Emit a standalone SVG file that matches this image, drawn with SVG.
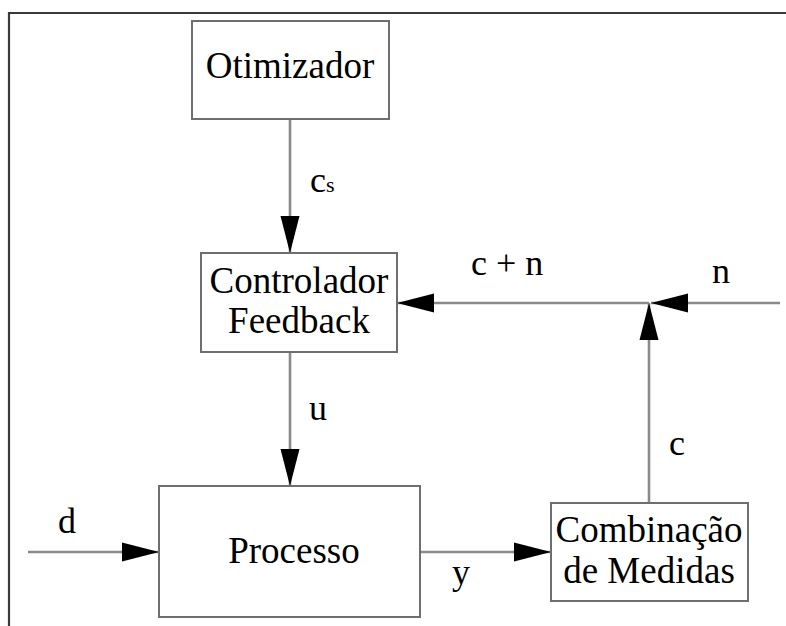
<svg xmlns="http://www.w3.org/2000/svg" width="786" height="626" viewBox="0 0 786 626">
  <style>
    .box { fill: #ffffff; stroke: #6e6e6e; stroke-width: 2; }
    .frame { fill: none; stroke: #3a3a3a; stroke-width: 2.2; }
    .wire { fill: none; stroke: #8a8a8a; stroke-width: 2.6; marker-end: url(#head); }
    text { font-family: "Liberation Serif", Tinos, "DejaVu Serif", "Times New Roman", serif; fill: #000000; }
    .lbl { font-size: 37px; text-anchor: middle; }
    .sig { font-size: 36px; }
  </style>
  <defs>
    <marker id="head" markerUnits="userSpaceOnUse" viewBox="-38 -10 38 20" refX="0" refY="0" markerWidth="38" markerHeight="20" orient="auto">
      <path d="M0,0 L-37,-9.5 L-37,9.5 Z" fill="#000000"/>
    </marker>
  </defs>

  <rect width="786" height="626" fill="#ffffff"/>
  <path class="frame" d="M9,626 V13 H786"/>

  <g id="connectors">
    <line class="wire" x1="290" y1="119" x2="290" y2="253"/>
    <line class="wire" x1="290" y1="352" x2="290" y2="486"/>
    <line class="wire" x1="28" y1="552" x2="159" y2="552"/>
    <line class="wire" x1="420" y1="552" x2="551" y2="552"/>
    <line class="wire" x1="649" y1="503" x2="649" y2="303"/>
    <line class="wire" x1="780" y1="303" x2="651" y2="303"/>
    <line class="wire" x1="649" y1="303" x2="397" y2="303"/>
  </g>

  <g id="labels">
    <text class="sig" x="310" y="192">c<tspan font-size="22">s</tspan></text>
    <text class="sig" x="309" y="420">u</text>
    <text class="sig" x="58" y="533">d</text>
    <text class="sig" x="452" y="584">y</text>
    <text class="sig" x="669" y="455">c</text>
    <text class="sig" x="471" y="275">c + n</text>
    <text class="sig" x="712" y="283">n</text>
  </g>

  <g id="otimizador">
    <rect class="box" x="192" y="21" width="197" height="98"/>
    <text class="lbl" x="290" y="78">Otimizador</text>
  </g>

  <g id="controlador">
    <rect class="box" x="201" y="253" width="196" height="99"/>
    <text class="lbl" x="299" y="293">Controlador</text>
    <text class="lbl" x="299" y="333">Feedback</text>
  </g>

  <g id="processo">
    <rect class="box" x="159" y="486" width="261" height="131"/>
    <text class="lbl" x="294" y="563">Processo</text>
  </g>

  <g id="combinacao">
    <rect class="box" x="551" y="503" width="197" height="98"/>
    <text class="lbl" x="649" y="542">Combinação</text>
    <text class="lbl" x="649" y="583">de Medidas</text>
  </g>
</svg>
